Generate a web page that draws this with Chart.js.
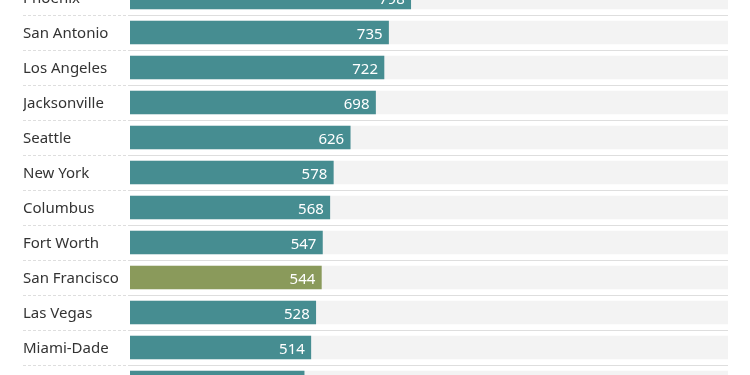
<!DOCTYPE html>
<html><head><meta charset="utf-8">
<script src="https://cdn.jsdelivr.net/npm/chart.js@4"></script>
<style>
html,body{margin:0;padding:0;background:#fff;overflow:hidden;}
#wrap{position:relative;width:750px;height:375px;overflow:hidden;}
#c{position:absolute;left:0;top:-29px;}
</style></head>
<body><div id="wrap"><canvas id="c" width="750" height="438"></canvas></div>
<script>
const cities = ["Phoenix","San Antonio","Los Angeles","Jacksonville","Seattle","New York","Columbus","Fort Worth","San Francisco","Las Vegas","Miami-Dade",""];
const values = [798,735,722,698,626,578,568,547,544,528,514,495];
const scaleMax = 1700;
const highlight = "San Francisco";
const background = cities.map(() => scaleMax);

const TEAL = "#468d91", OLIVE = "#8a9a5b";

const valueLabels = {
  id: "valueLabels",
  afterDatasetsDraw(chart) {
    const meta = chart.getDatasetMeta(0);
    const ctx = chart.ctx;
    ctx.save();
    ctx.font = "15px 'Noto Sans'";
    ctx.fillStyle = "#ffffff";
    ctx.textAlign = "right";
    ctx.textBaseline = "middle";
    meta.data.forEach((el, i) => {
      ctx.fillText(String(values[i]), el.x - 6, el.y + 2);
    });
    ctx.restore();
  }
};

const canvas = document.getElementById("c");
const chart = new Chart(canvas, {
  type: "bar",
  data: {
    labels: cities,
    datasets: [
      { data: values, backgroundColor: cities.map(c => c === highlight ? OLIVE : TEAL),
        barThickness: 23, grouped: false, order: 0 },
      { data: background, backgroundColor: "#f3f3f3",
        barThickness: 23, grouped: false, order: 1 }
    ]
  },
  options: {
    indexAxis: "y",
    responsive: false,
    maintainAspectRatio: false,
    animation: false,
    events: [],
    layout: { padding: { left: 23, right: 22, top: 0, bottom: 0 } },
    plugins: { legend: { display: false }, tooltip: { enabled: false } },
    scales: {
      x: { display: false, min: 0, max: scaleMax },
      y: {
        afterFit(axis) { axis.width = 107; },
        border: { display: false },
        grid: { offset: true, color: "#dedede", lineWidth: 1, drawTicks: true, tickLength: 107,
                tickBorderDash: [3, 2], borderDash: [3, 2] },
        ticks: { crossAlign: "far", color: "#333333", padding: 0, labelOffset: 1.5,
                 font: { family: "'Noto Sans'", size: 15 } }
      }
    }
  },
  plugins: [valueLabels]
});
</script></body></html>
